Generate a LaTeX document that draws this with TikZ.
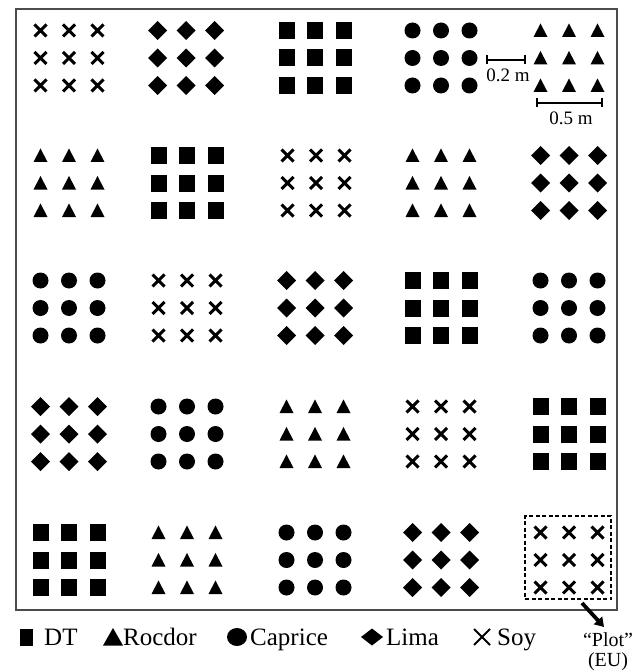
\documentclass[tikz,border=0pt]{standalone}
\usepackage{fontspec}
\setmainfont{Liberation Serif}
\usetikzlibrary{arrows.meta}
\newcommand\symsq[2]{\fill (#1-8,#2-8.5) rectangle (#1+8,#2+8.5);}
\newcommand\symci[2]{\fill (#1,#2) circle[radius=8];}
\newcommand\symdi[2]{\fill (#1-9.5,#2) -- (#1,#2-9.5) -- (#1+9.5,#2) -- (#1,#2+9.5) -- cycle;}
\newcommand\symtr[2]{\fill (#1-7,#2+6.5) -- (#1+7,#2+6.5) -- (#1,#2-7) -- cycle;}
\newcommand\symcr[2]{\draw[crossline] (#1-6,#2-6) -- (#1+6,#2+6) (#1-6,#2+6) -- (#1+6,#2-6);}
\newcommand\plotof[3]{%
  \foreach \dx in {-28.5,0,28.5}{%
    \foreach \dy in {-27.5,0,27.5}{%
      \pgfmathsetmacro\px{#2+\dx}%
      \pgfmathsetmacro\py{#3+\dy}%
      #1{\px}{\py}%
    }%
  }%
}
\begin{document}
\begin{tikzpicture}[x=1pt,y=-1pt,
  crossline/.style={line width=2.9pt},
  border/.style={draw=black!70,line width=2pt},
  plotbox/.style={draw,dashed,line width=1.1pt,dash pattern=on 4pt off 2.5pt,minimum width=86pt,minimum height=83pt,inner sep=0pt},
  scalebar/.style={line width=1.4pt},
  scalelabel/.style={font=\fontsize{19}{22}\selectfont,inner sep=0pt},
  legendtext/.style={font=\fontsize{25}{30}\selectfont,inner sep=0pt,anchor=base west},
  eutext/.style={font=\fontsize{20}{22}\selectfont,inner sep=0pt,anchor=base},
  pointer/.style={line width=3.8pt,-{Triangle[length=9pt,width=11pt]}}]
\useasboundingbox (0,0) rectangle (644,671);
% field border
\draw[border] (16,9) rectangle (617,610);
% row 1
\plotof{\symcr}{69}{58}
\plotof{\symdi}{186}{58}
\plotof{\symsq}{315}{58}
\plotof{\symci}{441}{58}
\plotof{\symtr}{569}{58}
% row 2
\plotof{\symtr}{69}{183}
\plotof{\symsq}{187}{183}
\plotof{\symcr}{316}{183}
\plotof{\symtr}{441}{183}
\plotof{\symdi}{569}{183}
% row 3
\plotof{\symci}{69}{308}
\plotof{\symcr}{187}{308}
\plotof{\symdi}{315}{308}
\plotof{\symsq}{441}{308}
\plotof{\symci}{569}{308}
% row 4
\plotof{\symdi}{69}{434}
\plotof{\symci}{187}{434}
\plotof{\symtr}{315}{434}
\plotof{\symcr}{441}{434}
\plotof{\symsq}{569}{434}
% row 5
\plotof{\symsq}{69}{560}
\plotof{\symtr}{187}{560}
\plotof{\symci}{315}{560}
\plotof{\symdi}{441}{560}
\plotof{\symcr}{569}{560}
% scale bars
\draw[scalebar] (487,60) -- (525,60) (487,55.5) -- (487,64.5) (525,55.5) -- (525,64.5);
\node[scalelabel] (s02) at (508,75) {0.2 m};
\draw[scalebar] (537,103) -- (602,103) (537,98.5) -- (537,107.5) (602,98.5) -- (602,107.5);
\node[scalelabel] (s05) at (571,118) {0.5 m};
% experimental unit
\node[plotbox] (plot) at (568,557.5) {};
\node[eutext] (plotlabel) at (608,646) {“Plot”};
\node[eutext] (eulabel) at (608,666) {(EU)};
\coordinate (arrowstart) at (582,603);
\coordinate (arrowend) at (604,627);
\draw[pointer] (arrowstart) -- (arrowend);
% legend
\fill (19.5,628.5) rectangle (32.5,645.5);
\node[legendtext] (ldt) at (44,645) {DT};
\fill (103,645.5) -- (123,645.5) -- (113,628) -- cycle;
\node[legendtext] (lroc) at (123,645) {Rocdor};
\fill (237,637) ellipse[x radius=10,y radius=9];
\node[legendtext] (lcap) at (250,645) {Caprice};
\fill (361,637) -- (372,628.5) -- (383,637) -- (372,645.5) -- cycle;
\node[legendtext] (llim) at (386,645) {Lima};
\draw[line width=2pt] (474,629) -- (490,645) (474,645) -- (490,629);
\node[legendtext] (lsoy) at (497,645) {Soy};
\end{tikzpicture}
\end{document}
